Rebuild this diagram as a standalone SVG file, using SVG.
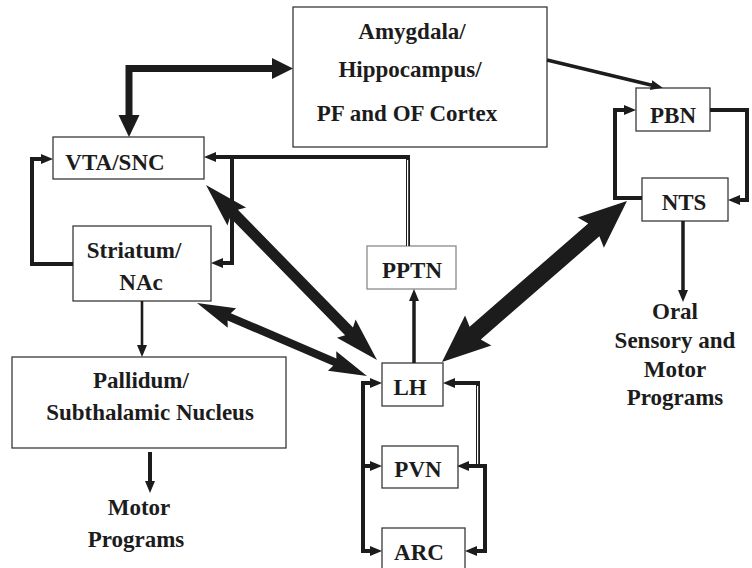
<svg xmlns="http://www.w3.org/2000/svg" width="752" height="568" viewBox="0 0 752 568">
  <style>
    .box { fill: #ffffff; stroke: #3a3a3a; stroke-width: 1.3; }
    .box.light { stroke: #8a8a8a; }
    .lbl { font-family: "Liberation Serif", "Times New Roman", serif; font-weight: bold; font-size: 23px; fill: #1c1c1c; text-anchor: middle; }
    .wire { fill: none; stroke: #1c1c1c; stroke-width: 4; stroke-linejoin: miter; }
    .thin { fill: none; stroke: #1c1c1c; stroke-width: 2.6; }
    .mid { fill: none; stroke: #1c1c1c; stroke-width: 3.5; }
    .gap { fill: none; stroke: #ffffff; stroke-width: 1.2; }
    .solid { fill: #1c1c1c; stroke: none; }
  </style>
  <defs>
    <!-- small arrowhead; tip lies 10 units past the end of the line -->
    <marker id="ah" markerUnits="userSpaceOnUse" markerWidth="14" markerHeight="12" refX="2" refY="5" orient="auto">
      <path d="M0,0 L12,5 L0,10 Z" fill="#1c1c1c"/>
    </marker>
  </defs>

  <!-- nodes -->
  <g id="amygdala">
    <rect class="box" x="293" y="7" width="254" height="140"/>
    <text class="lbl" x="412" y="39">Amygdala/</text>
    <text class="lbl" x="410" y="77">Hippocampus/</text>
    <text class="lbl" x="407" y="121">PF and OF Cortex</text>
  </g>
  <g id="vta">
    <rect class="box" x="53" y="137" width="151" height="42"/>
    <text class="lbl" x="115" y="170">VTA/SNC</text>
  </g>
  <g id="striatum">
    <rect class="box" x="73" y="226" width="138" height="75"/>
    <text class="lbl" x="134" y="258">Striatum/</text>
    <text class="lbl" x="141" y="290">NAc</text>
  </g>
  <g id="pallidum">
    <rect class="box" x="12" y="357" width="274" height="91"/>
    <text class="lbl" x="141" y="388">Pallidum/</text>
    <text class="lbl" x="150" y="420">Subthalamic Nucleus</text>
  </g>
  <g id="motor-programs">
    <text class="lbl" x="139" y="515">Motor</text>
    <text class="lbl" x="136" y="547">Programs</text>
  </g>
  <g id="pptn">
    <rect class="box light" x="367" y="246" width="89" height="43"/>
    <text class="lbl" x="412" y="278">PPTN</text>
  </g>
  <g id="lh">
    <rect class="box" x="382" y="363" width="61" height="43"/>
    <text class="lbl" x="410" y="395">LH</text>
  </g>
  <g id="pvn">
    <rect class="box" x="382" y="446" width="76" height="42"/>
    <text class="lbl" x="418" y="477">PVN</text>
  </g>
  <g id="arc">
    <rect class="box" x="382" y="528" width="83" height="46"/>
    <text class="lbl" x="419" y="560">ARC</text>
  </g>
  <g id="pbn">
    <rect class="box" x="636" y="88" width="74" height="43"/>
    <text class="lbl" x="673" y="123">PBN</text>
  </g>
  <g id="nts">
    <rect class="box" x="642" y="178" width="86" height="43"/>
    <text class="lbl" x="684" y="210">NTS</text>
  </g>
  <g id="oral-programs">
    <text class="lbl" x="675" y="319">Oral</text>
    <text class="lbl" x="675" y="348">Sensory and</text>
    <text class="lbl" x="675" y="377">Motor</text>
    <text class="lbl" x="675" y="405">Programs</text>
  </g>

  <!-- connectors -->
  <g id="connectors">
    <!-- Amygdala/Hippocampus <-> VTA/SNC -->
    <path d="M129,118 L129,68.5 L274,68.5" fill="none" stroke="#1c1c1c" stroke-width="7"/>
    <polygon class="solid" points="293,68.5 272,58 272,79"/>
    <polygon class="solid" points="129,137 118.5,115 139.5,115"/>

    <!-- Amygdala/Hippocampus -> PBN -->
    <path class="mid" d="M547,60 L653,85.5" marker-end="url(#ah)"/>

    <!-- PPTN -> VTA/SNC (double line) -->
    <path class="wire" d="M408,246 L408,157 L214,157" marker-end="url(#ah)"/>
    <path class="gap" d="M407.6,160 L407.6,246"/>

    <!-- VTA/SNC -> Striatum/NAc -->
    <path class="wire" d="M232,157 L232,263 L221,263" marker-end="url(#ah)"/>
    <!-- Striatum/NAc -> VTA/SNC -->
    <path class="wire" d="M73,264 L32,264 L32,159 L43,159" marker-end="url(#ah)"/>

    <!-- Striatum/NAc -> Pallidum -->
    <path class="thin" d="M142,301 L142,347" marker-end="url(#ah)"/>
    <!-- Pallidum -> Motor Programs -->
    <path class="wire" d="M150,452 L150,483" marker-end="url(#ah)"/>

    <!-- LH -> PPTN -->
    <path class="mid" d="M414,363 L414,299" marker-end="url(#ah)"/>

    <!-- left rail: LH / PVN / ARC -->
    <path class="wire" d="M363,381 L363,553"/>
    <path class="wire" d="M361,383 L372,383" marker-end="url(#ah)"/>
    <path class="wire" d="M361,466 L372,466" marker-end="url(#ah)"/>
    <path class="wire" d="M361,551 L372,551" marker-end="url(#ah)"/>

    <!-- right rail: PVN -> ARC, PVN -> LH (double line) -->
    <path class="wire" d="M485,466 L485,551 L475,551" marker-end="url(#ah)"/>
    <path class="wire" d="M487,466 L467,466" marker-end="url(#ah)"/>
    <path class="wire" d="M478,466 L478,383 L453,383" marker-end="url(#ah)"/>
    <path class="gap" d="M477.6,386 L477.6,464"/>

    <!-- PBN <-> NTS loop -->
    <path class="wire" d="M710,110 L747,110 L747,200 L738,200" marker-end="url(#ah)"/>
    <path class="wire" d="M642,198 L615,198 L615,110 L626,110" marker-end="url(#ah)"/>

    <!-- NTS -> Oral Sensory and Motor Programs -->
    <path class="mid" d="M683,221 L683,292" marker-end="url(#ah)"/>

    <!-- heavy two-way projections -->
    <!-- VTA/SNC <-> LH -->
    <polygon class="solid" transform="translate(206,185) rotate(45.66)"
      points="0,0 44,-13 40,-5.5 204.7,-5.5 200.7,-13 244.7,0 200.7,13 204.7,5.5 40,5.5 44,13"/>
    <!-- Striatum/NAc <-> LH -->
    <polygon class="solid" transform="translate(197,303) rotate(23.24)"
      points="0,0 38,-10.5 35,-4 150,-4 147,-10.5 185,0 147,10.5 150,4 35,4 38,10.5"/>
    <!-- NTS <-> LH -->
    <polygon class="solid" transform="translate(442,362) rotate(-41.03)"
      points="0,0 48,-20 44,-8.5 201.2,-8.5 197.2,-20 245.2,0 197.2,20 201.2,8.5 44,8.5 48,20"/>
  </g>
</svg>
